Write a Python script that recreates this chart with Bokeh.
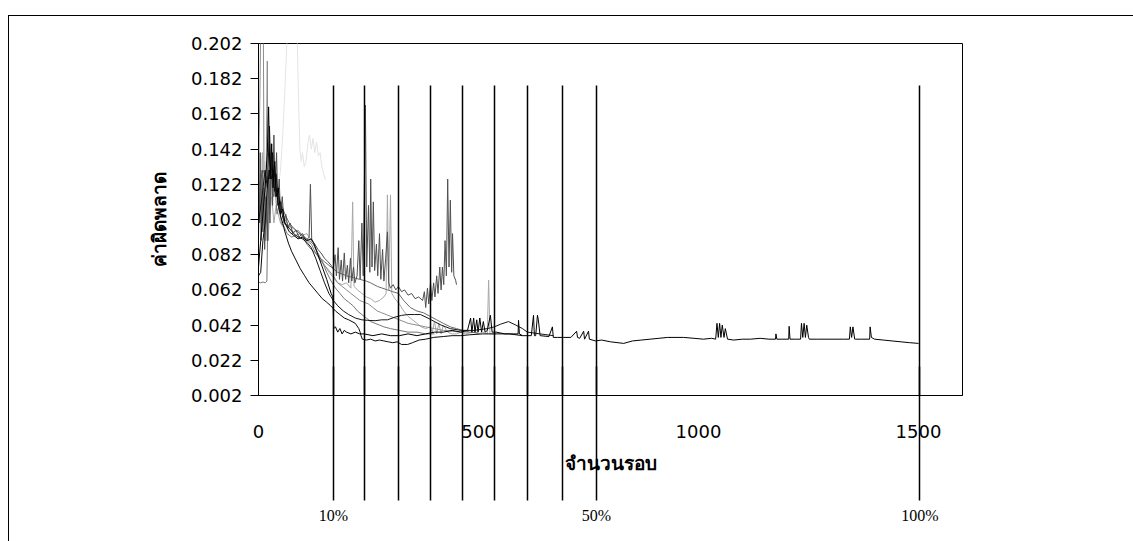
from bokeh.plotting import figure
from bokeh.models import FixedTicker, PrintfTickFormatter, Range1d, LinearAxis
from bokeh.embed import file_html
from bokeh.resources import INLINE

# ---------------- data ----------------
x_ticks = [0, 500, 1000, 1500]
y_ticks = [0.002, 0.022, 0.042, 0.062, 0.082, 0.102, 0.122, 0.142, 0.162, 0.182, 0.202]

run_black_long = [(0,0.075),(5,0.09),(10,0.105),(15,0.12),(20,0.14),(23,0.166),(26,0.125),(30,0.145),(33,0.12),(37,0.135),
    (40,0.115),(45,0.12),(50,0.105),(55,0.108),(60,0.1),(70,0.095),(80,0.093),(90,0.091),(100,0.092),(110,0.09),(120,0.091),
    (125,0.089),(135,0.082),(145,0.075),(155,0.068),(165,0.06),(169,0.058),(171,0.04),(175,0.041),(180,0.038),(185,0.04),
    (190,0.037),(195,0.039),(200,0.038),(210,0.037),(220,0.038),(230,0.037),(240,0.037),(260,0.036),(280,0.037),(300,0.036),
    (320,0.036),(340,0.037),(360,0.036),(380,0.037),(400,0.038),(420,0.038),(440,0.039),(460,0.038),(475,0.039),(482,0.046),
    (485,0.038),(489,0.046),(492,0.038),(496,0.045),(499,0.038),(503,0.046),(507,0.038),(511,0.044),(515,0.038),(520,0.039),
    (527,0.0476),(531,0.038),(540,0.038),(560,0.037),(580,0.037),(590,0.037),(591,0.0447),(593,0.037),(600,0.036),(620,0.036),
    (625,0.0476),(627,0.036),(630,0.036),(634,0.0476),(636,0.045),(640,0.036),(660,0.0355),(668,0.041),(670,0.035),(680,0.035),
    (693,0.035),(710,0.035),(723,0.0385),(725,0.035),(730,0.0345),(739,0.0385),(741,0.034),(750,0.0385),(752,0.034),(766,0.033),
    (780,0.0335),(800,0.0325),(830,0.0316),(850,0.033),(870,0.0335),(890,0.034),(910,0.0345),(930,0.035),(966,0.035),(990,0.0345),
    (1011,0.034),(1030,0.0345),(1039,0.034),(1042,0.043),(1045,0.035),(1048,0.043),(1051,0.035),(1054,0.042),(1058,0.035),
    (1061,0.04),(1066,0.034),(1080,0.0335),(1100,0.034),(1118,0.034),(1140,0.0345),(1160,0.034),(1175,0.034),(1176,0.037),
    (1178,0.034),(1190,0.034),(1205,0.034),(1206,0.0413),(1208,0.034),(1220,0.034),(1232,0.034),(1234,0.043),(1237,0.035),
    (1240,0.043),(1243,0.035),(1246,0.042),(1250,0.035),(1252,0.034),(1270,0.034),(1290,0.034),(1310,0.034),(1330,0.034),
    (1343,0.034),(1345,0.041),(1348,0.035),(1351,0.041),(1355,0.034),(1357,0.034),(1370,0.034),(1389,0.034),(1390,0.041),
    (1393,0.035),(1400,0.034),(1420,0.0335),(1440,0.033),(1460,0.0325),(1480,0.032),(1500,0.0316)]

run_black_low = [(0,0.07),(5,0.072),(10,0.09),(15,0.1),(20,0.12),(25,0.13),(30,0.125),(35,0.13),(40,0.12),(45,0.11),
    (50,0.104),(55,0.1),(60,0.095),(68,0.0886),(75,0.084),(85,0.079),(95,0.074),(105,0.07),(115,0.066),(125,0.063),(135,0.06),
    (145,0.057),(155,0.055),(164,0.053),(175,0.05),(185,0.048),(195,0.046),(205,0.045),(220,0.043),(228,0.04),(231,0.038),
    (233,0.036),(236,0.034),(245,0.0335),(255,0.034),(265,0.033),(275,0.0335),(285,0.033),(295,0.0325),(305,0.032),
    (315,0.0325),(325,0.031),(339,0.031),(350,0.032),(365,0.0335),(380,0.034),(398,0.035),(420,0.0355),(440,0.036),
    (460,0.036),(480,0.0365),(510,0.037),(540,0.037),(570,0.037),(600,0.036)]

run_black_mid = [(0,0.1),(8,0.115),(15,0.13),(20,0.12),(25,0.155),(28,0.125),(32,0.14),(36,0.118),(40,0.128),(45,0.11),
    (50,0.112),(55,0.103),(60,0.1),(70,0.097),(80,0.094),(90,0.092),(100,0.091),(110,0.089),(120,0.086),(130,0.08),(140,0.073),
    (150,0.066),(160,0.06),(170,0.056),(180,0.053),(193,0.05),(205,0.048),(220,0.046),(235,0.045),(248,0.0447),(265,0.0445),
    (280,0.045),(293,0.045),(310,0.0465),(325,0.0475),(339,0.048),(355,0.048),(368,0.048),(385,0.046),(400,0.044),(415,0.042),
    (436,0.04),(460,0.039),(490,0.039),(520,0.04),(536,0.041),(550,0.0425),(568,0.044),(585,0.042),(600,0.04),(611,0.038),
    (640,0.037),(670,0.036)]

run_dark_gray = [(0,0.149),(2,0.1),(4,0.14),(6,0.09),(8,0.13),(10,0.095),(12,0.12),(14,0.085),(17,0.115),(20,0.09),(23,0.13),
    (26,0.1),(29,0.145),(32,0.11),(35,0.15),(38,0.115),(41,0.14),(44,0.11),(47,0.125),(50,0.105),(54,0.115),(58,0.1),(62,0.105),
    (67,0.097),(72,0.1),(78,0.094),(85,0.096),(92,0.092),(100,0.094),(108,0.09),(115,0.092),(118,0.122),(121,0.09),(128,0.088),
    (135,0.085),(142,0.083),(150,0.08),(158,0.078),(165,0.076),(170,0.074),(174,0.082),(177,0.07),(181,0.086),(184,0.068),
    (188,0.079),(191,0.067),(195,0.083),(198,0.068),(202,0.076),(205,0.066),(209,0.08),(212,0.067),(216,0.075),(219,0.066),
    (224,0.07),(228,0.09),(231,0.068),(235,0.1),(238,0.07),(243,0.167),(246,0.075),(250,0.11),(253,0.072),(255,0.125),(258,0.075),
    (261,0.112),(264,0.073),(268,0.088),(271,0.07),(275,0.094),(278,0.068),(282,0.085),(285,0.067),(289,0.08),(293,0.095),
    (296,0.066),(300,0.063),(306,0.065),(312,0.062),(318,0.064),(325,0.061),(332,0.062),(340,0.059),(348,0.06),(356,0.057),
    (364,0.058),(373,0.056),(377,0.061),(380,0.052),(384,0.063),(387,0.054),(391,0.066),(394,0.056),(398,0.066),(401,0.058),
    (405,0.07),(408,0.06),(412,0.075),(415,0.062),(418,0.075),(421,0.065),(424,0.09),(427,0.07),(430,0.125),(433,0.075),
    (436,0.113),(439,0.072),(441,0.094),(444,0.07),(448,0.0675),(450,0.065)]

run_light_gray = [(0,0.09),(3,0.12),(6,0.1),(9,0.14),(12,0.11),(15,0.13),(18,0.1),(22,0.12),(26,0.105),(30,0.115),(35,0.1),
    (40,0.11),(45,0.105),(50,0.1),(55,0.098),(60,0.1),(70,0.097),(80,0.095),(90,0.096),(100,0.093),(110,0.094),(120,0.09),
    (130,0.085),(140,0.08),(150,0.076),(160,0.072),(170,0.069),(180,0.066),(190,0.065),(200,0.066),(210,0.063),(214,0.112),
    (217,0.064),(225,0.062),(235,0.06),(245,0.058),(255,0.057),(265,0.055),(275,0.056),(285,0.058),(290,0.06),(293,0.116),
    (296,0.062),(300,0.116),(303,0.06),(310,0.057),(320,0.054),(330,0.05),(340,0.047),(350,0.045),(360,0.043),(370,0.041),
    (380,0.04),(390,0.041),(395,0.038),(400,0.044),(405,0.037),(410,0.043),(415,0.037),(420,0.042),(430,0.038),(440,0.037),
    (450,0.037),(460,0.038),(470,0.037),(480,0.0375),(490,0.038),(500,0.037),(510,0.038),(520,0.037),(523,0.0676),(526,0.037),
    (540,0.037)]

run_pale_gray = [(0,0.13),(5,0.14),(10,0.125),(15,0.135),(20,0.12),(25,0.13),(30,0.115),(35,0.12),(40,0.115),(45,0.12),
    (50,0.13),(55,0.15),(60,0.175),(64,0.2),(68,0.215),(75,0.22),(82,0.215),(88,0.205),(91,0.17),(94,0.142),(97,0.135),
    (100,0.14),(104,0.132),(108,0.135),(112,0.145),(116,0.15),(120,0.142),(124,0.148),(128,0.14),(132,0.146),(136,0.138),
    (140,0.14),(144,0.132),(148,0.128),(152,0.1245)]

run_mid_gray = [(0,0.13),(3,0.17),(5,0.21),(8,0.21),(11,0.21),(13,0.1),(16,0.09),(20,0.192),(22,0.09),(25,0.11),(28,0.13),
    (32,0.12),(36,0.135),(40,0.125),(45,0.115),(50,0.11),(60,0.102),(70,0.098),(80,0.097),(90,0.095),(100,0.093),(110,0.09),
    (120,0.088),(130,0.083),(140,0.079),(150,0.076),(160,0.073),(170,0.07),(180,0.066),(190,0.064),(200,0.062),(210,0.06),
    (220,0.058),(230,0.056),(240,0.055),(250,0.054),(260,0.052),(270,0.05),(280,0.049),(290,0.048),(300,0.047),(320,0.045),
    (340,0.043),(360,0.042),(380,0.041),(400,0.04),(420,0.039),(440,0.0385),(460,0.038),(480,0.038)]

run_gray_flat = [(0,0.0664),(5,0.066),(10,0.0665),(15,0.066),(19,0.067),(21,0.1),(24,0.125),(27,0.11),(30,0.13),(34,0.115),
    (38,0.12),(42,0.105),(47,0.11),(52,0.1),(58,0.098),(65,0.094),(75,0.092),(85,0.093),(95,0.094),(105,0.092),(115,0.09),
    (125,0.088),(135,0.083),(145,0.078),(155,0.072),(165,0.067),(175,0.063),(185,0.06),(195,0.057),(205,0.055),(215,0.053),
    (225,0.05),(235,0.048),(245,0.046),(255,0.044),(265,0.043),(275,0.042),(285,0.041),(300,0.04),(320,0.039),(340,0.038),
    (360,0.038),(380,0.037),(400,0.037)]

run_thin_gray = [(0,0.12),(10,0.13),(20,0.125),(30,0.13),(40,0.12),(50,0.112),(60,0.105),(70,0.1),(80,0.097),(90,0.095),
    (100,0.092),(110,0.088),(120,0.085),(130,0.083),(140,0.08),(150,0.078),(160,0.076),(170,0.074),(180,0.072),(190,0.071),
    (200,0.07),(215,0.069),(230,0.068),(245,0.067),(255,0.066),(270,0.064),(293,0.062),(305,0.061),(318,0.06),(330,0.056),
    (345,0.052),(360,0.05),(375,0.049),(390,0.047),(405,0.045),(420,0.043),(436,0.041),(450,0.04),(465,0.039),(480,0.038),
    (500,0.0375)]

# percentage markers (epoch positions) and the labels shown under three of them
pct_line_x = [170, 242, 318, 391, 464, 537, 612, 692, 768, 1503]
pct_label_text = ["10%", "", "", "", "", "", "", "", "50%", "100%"]

x_title = "จำนวนรอบ"
y_title = "ค่าผิดพลาด"

# ---------------- figure ----------------
W, H = 1133, 541
p = figure(width=W, height=H, x_range=Range1d(0, 1600), y_range=Range1d(0.002, 0.202),
           output_backend="svg", toolbar_location=None,
           min_border_left=258, min_border_right=171, min_border_top=43, min_border_bottom=146)
p.grid.visible = False
p.outline_line_color = "black"
p.outline_line_alpha = 1.0
p.outline_line_width = 1
p.background_fill_color = "white"
p.border_fill_alpha = 0
# outer frame of the figure (top and left edges; the rest lies beyond the picture)
p.styles = {
    "background-color": "white",
    "background-image": "linear-gradient(#000,#000), linear-gradient(#000,#000)",
    "background-size": "1125px 1px, 1px 526px",
    "background-position": "8px 15px, 8px 15px",
    "background-repeat": "no-repeat",
}

# y axis
ya = p.yaxis[0]
ya.ticker = FixedTicker(ticks=y_ticks)
ya.formatter = PrintfTickFormatter(format="%.3f")
ya.axis_line_color = "black"
ya.major_tick_line_color = "black"
ya.major_tick_out = 8
ya.major_tick_in = 0
ya.minor_tick_line_color = None
ya.major_label_text_font = "DejaVu Sans"
ya.major_label_text_font_size = "18px"
ya.major_label_text_color = "black"
ya.major_label_standoff = 8
ya.axis_label = y_title
ya.axis_label_text_font = "Liberation Sans"
ya.axis_label_text_font_style = "bold"
ya.axis_label_text_font_size = "19px"
ya.axis_label_text_color = "black"
ya.axis_label_standoff = 18

# x axis; its minor ticks (pointing into the plot) draw the upper part of the marker lines
xa = p.xaxis[0]
xa.ticker = FixedTicker(ticks=x_ticks, minor_ticks=pct_line_x)
xa.axis_line_color = "black"
xa.major_tick_line_color = None
xa.major_tick_out = 0
xa.major_tick_in = 0
xa.minor_tick_line_color = "black"
xa.minor_tick_line_width = 1.5
xa.minor_tick_in = 310
xa.minor_tick_out = 0
xa.major_label_text_font = "DejaVu Sans"
xa.major_label_text_font_size = "18px"
xa.major_label_text_color = "black"
xa.major_label_standoff = 29
xa.axis_label = x_title
xa.axis_label_text_font = "Liberation Sans"
xa.axis_label_text_font_style = "bold"
xa.axis_label_text_font_size = "19px"
xa.axis_label_text_color = "black"
xa.axis_label_standoff = 12

# second axis below: its ticks draw the lower part of the marker lines, labels give the percentages
pa = LinearAxis(ticker=FixedTicker(ticks=pct_line_x),
                major_label_overrides={k: t for k, t in zip(pct_line_x, pct_label_text)})
pa.axis_line_color = None
pa.major_tick_line_color = "black"
pa.major_tick_line_width = 1.5
pa.major_tick_in = 110
pa.major_tick_out = 24
pa.minor_tick_line_color = None
pa.major_label_text_font = "Liberation Serif"
pa.major_label_text_font_size = "16px"
pa.major_label_text_color = "black"
pa.major_label_standoff = 6
p.add_layout(pa, "below")

series = [
    (run_pale_gray, "#e4e4e4"),
    (run_light_gray, "#a8a8a8"),
    (run_mid_gray, "#8c8c8c"),
    (run_gray_flat, "#777777"),
    (run_thin_gray, "#6a6a6a"),
    (run_dark_gray, "#505050"),
    (run_black_mid, "#151515"),
    (run_black_low, "#0a0a0a"),
    (run_black_long, "#000000"),
]
for pts, col in series:
    xs = [a for a, b in pts]
    ys = [b for a, b in pts]
    p.line(xs, ys, line_color=col, line_width=1)

open("out.html", "w").write(file_html(p, INLINE))
